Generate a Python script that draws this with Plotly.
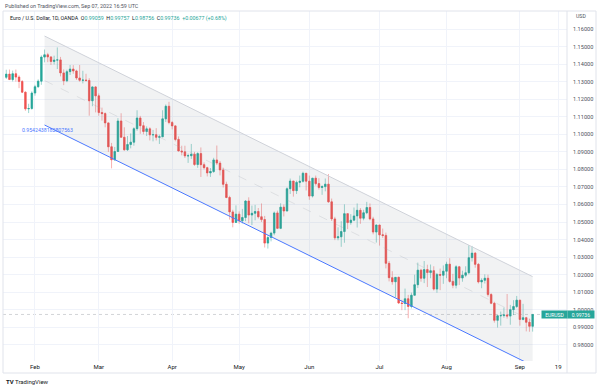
import pandas as pd
import plotly.graph_objects as go

# ---------------- data ----------------
dates = pd.bdate_range("2022-01-19", "2022-09-07")

opens = [1.1325, 1.1343, 1.1312, 1.1345, 1.1326, 1.1301, 1.1240, 1.1145, 1.1147,
         1.1235, 1.1271, 1.1303, 1.1440, 1.1453, 1.1441, 1.1415, 1.1423, 1.1424, 1.1350,
         1.1305, 1.1357, 1.1372, 1.1361, 1.1321, 1.1308, 1.1309, 1.1307, 1.1191, 1.1270,
         1.1219, 1.1124, 1.1118, 1.1065, 1.0929, 1.0855, 1.0902, 1.1076, 1.0983, 1.0912,
         1.0942, 1.0955, 1.1032, 1.1093, 1.1049, 1.1016, 1.1031, 1.0997, 1.0998, 1.0983,
         1.0986, 1.1088, 1.1160,
         1.1067, 1.1048, 1.0971, 1.0905, 1.0900, 1.0877, 1.0878, 1.0887, 1.0828, 1.0890,
         1.0827, 1.0810, 1.0780, 1.0788, 1.0854, 1.0836, 1.0797, 1.0715, 1.0640, 1.0558,
         1.0498,
         1.0545, 1.0507, 1.0526, 1.0620, 1.0540, 1.0550, 1.0560, 1.0530, 1.0514, 1.0380,
         1.0412, 1.0437, 1.0552, 1.0464, 1.0585, 1.0563, 1.0690, 1.0734, 1.0679, 1.0726,
         1.0732, 1.0778,
         1.0733, 1.0648, 1.0750, 1.0719, 1.0697, 1.0702, 1.0716, 1.0615, 1.0518, 1.0410,
         1.0416, 1.0446, 1.0548, 1.0497, 1.0511, 1.0535, 1.0567, 1.0522, 1.0553, 1.0583,
         1.0518, 1.0443,
         1.0483, 1.0427, 1.0424, 1.0265, 1.0183, 1.0160, 1.0185, 1.0039, 1.0036, 1.0063,
         1.0019, 1.0083, 1.0143, 1.0226, 1.0180, 1.0229, 1.0212, 1.0223, 1.0118, 1.0201,
         1.0197,
         1.0220, 1.0260, 1.0162, 1.0140, 1.0245, 1.0181, 1.0197, 1.0211, 1.0297, 1.0323,
         1.0259, 1.0159, 1.0168, 1.0180, 1.0087, 1.0037, 0.9940, 0.9966, 0.9967, 0.9971,
         0.9964, 1.0001, 1.0019,
         1.0055, 0.9945, 0.9955, 0.9929, 0.99059]

highs = [1.1368, 1.1369, 1.1363, 1.1369, 1.1336, 1.1309, 1.1245, 1.1174, 1.1245,
         1.1282, 1.1313, 1.1450, 1.1483, 1.1464, 1.1446, 1.1448, 1.1495, 1.1441, 1.1370,
         1.1368, 1.1395, 1.1394, 1.1368, 1.1395, 1.1362, 1.1345, 1.1320, 1.1274, 1.1275,
         1.1233, 1.1152, 1.1125, 1.1068, 1.0951, 1.0928, 1.1092, 1.1120, 1.1040, 1.0990,
         1.1005, 1.1040, 1.1137, 1.1105, 1.1070, 1.1045, 1.1040, 1.1025, 1.1035, 1.0998,
         1.1137, 1.1170, 1.1185,
         1.1076, 1.1053, 1.0988, 1.0935, 1.0935, 1.0890, 1.0945, 1.0900, 1.0898, 1.0925,
         1.0840, 1.0815, 1.0808, 1.0866, 1.0936, 1.0848, 1.0810, 1.0730, 1.0650, 1.0570,
         1.0595,
         1.0561, 1.0575, 1.0625, 1.0641, 1.0594, 1.0598, 1.0580, 1.0606, 1.0535, 1.0425,
         1.0445, 1.0560, 1.0565, 1.0607, 1.0600, 1.0698, 1.0748, 1.0735, 1.0736, 1.0765,
         1.0787, 1.0780,
         1.0765, 1.0752, 1.0765, 1.0750, 1.0710, 1.0748, 1.0774, 1.0634, 1.0530, 1.0470,
         1.0505, 1.0601, 1.0550, 1.0545, 1.0583, 1.0606, 1.0580, 1.0570, 1.0615, 1.0606,
         1.0530, 1.0487,
         1.0485, 1.0463, 1.0440, 1.0278, 1.0220, 1.0186, 1.0190, 1.0057, 1.0121, 1.0085,
         1.0098, 1.0200, 1.0269, 1.0234, 1.0278, 1.0257, 1.0258, 1.0248, 1.0210, 1.0235,
         1.0253,
         1.0274, 1.0294, 1.0205, 1.0254, 1.0250, 1.0223, 1.0248, 1.0368, 1.0364, 1.0329,
         1.0267, 1.0180, 1.0202, 1.0200, 1.0095, 1.0046, 0.9970, 0.9990, 1.0013, 1.0090,
         1.0028, 1.0055, 1.0079,
         1.0057, 1.0034, 0.9960, 0.9950, 0.99757]

lows = [1.1315, 1.1313, 1.1301, 1.1300, 1.1263, 1.1235, 1.1134, 1.1121, 1.1140,
        1.1220, 1.1265, 1.1282, 1.1410, 1.1411, 1.1395, 1.1398, 1.1372, 1.1330, 1.1280,
        1.1297, 1.1338, 1.1345, 1.1310, 1.1300, 1.1290, 1.1300, 1.1106, 1.1160, 1.1125,
        1.1106, 1.1078, 1.1040, 1.0900, 1.0806, 1.0848, 1.0900, 1.0980, 1.0906, 1.0905,
        1.0920, 1.0935, 1.1020, 1.1003, 1.1000, 1.0990, 1.0965, 1.0960, 1.0965, 1.0945,
        1.0983, 1.1070, 1.1057,
        1.1028, 1.0960, 1.0902, 1.0880, 1.0865, 1.0837, 1.0860, 1.0820, 1.0809, 1.0757,
        1.0800, 1.0760, 1.0757, 1.0780, 1.0825, 1.0766, 1.0697, 1.0636, 1.0514, 1.0470,
        1.0495,
        1.0490, 1.0492, 1.0505, 1.0493, 1.0483, 1.0510, 1.0520, 1.0500, 1.0355, 1.0349,
        1.0390, 1.0425, 1.0460, 1.0460, 1.0532, 1.0560, 1.0660, 1.0645, 1.0660, 1.0698,
        1.0725, 1.0680,
        1.0627, 1.0640, 1.0708, 1.0685, 1.0655, 1.0675, 1.0610, 1.0506, 1.0397, 1.0396,
        1.0359, 1.0382, 1.0460, 1.0485, 1.0505, 1.0469, 1.0490, 1.0510, 1.0545, 1.0510,
        1.0430, 1.0383,
        1.0366, 1.0410, 1.0236, 1.0162, 1.0143, 1.0071, 1.0033, 0.9998, 0.9998, 0.9952,
        1.0008, 1.0080, 1.0124, 1.0160, 1.0152, 1.0130, 1.0180, 1.0110, 1.0097, 1.0112,
        1.0148,
        1.0180, 1.0155, 1.0123, 1.0122, 1.0141, 1.0160, 1.0186, 1.0202, 1.0275, 1.0240,
        1.0150, 1.0123, 1.0150, 1.0075, 1.0032, 0.9927, 0.9899, 0.9910, 0.9955, 0.9950,
        0.9915, 0.9970, 1.0010,
        0.9910, 0.9940, 0.9877, 0.9875, 0.98756]

closes = [1.1343, 1.1312, 1.1345, 1.1326, 1.1301, 1.1240, 1.1145, 1.1147, 1.1235,
          1.1271, 1.1303, 1.1440, 1.1453, 1.1441, 1.1415, 1.1423, 1.1424, 1.1350, 1.1305,
          1.1357, 1.1372, 1.1361, 1.1321, 1.1308, 1.1309, 1.1307, 1.1191, 1.1270, 1.1219,
          1.1124, 1.1118, 1.1065, 1.0929, 1.0855, 1.0902, 1.1076, 1.0983, 1.0912, 1.0942,
          1.0955, 1.1032, 1.1093, 1.1049, 1.1016, 1.1031, 1.0997, 1.0998, 1.0983, 1.0986,
          1.1088, 1.1160, 1.1067,
          1.1048, 1.0971, 1.0905, 1.0900, 1.0877, 1.0878, 1.0887, 1.0828, 1.0890, 1.0827,
          1.0810, 1.0780, 1.0788, 1.0854, 1.0836, 1.0797, 1.0715, 1.0640, 1.0558, 1.0498,
          1.0545,
          1.0507, 1.0526, 1.0620, 1.0540, 1.0550, 1.0560, 1.0530, 1.0514, 1.0380, 1.0412,
          1.0437, 1.0552, 1.0464, 1.0585, 1.0563, 1.0690, 1.0734, 1.0679, 1.0726, 1.0732,
          1.0778, 1.0733,
          1.0648, 1.0750, 1.0719, 1.0697, 1.0702, 1.0716, 1.0615, 1.0518, 1.0410, 1.0416,
          1.0446, 1.0548, 1.0497, 1.0511, 1.0535, 1.0567, 1.0522, 1.0553, 1.0583, 1.0518,
          1.0443, 1.0483,
          1.0427, 1.0424, 1.0265, 1.0183, 1.0160, 1.0185, 1.0039, 1.0036, 1.0063, 1.0019,
          1.0083, 1.0143, 1.0226, 1.0180, 1.0229, 1.0212, 1.0223, 1.0118, 1.0201, 1.0197,
          1.0220,
          1.0260, 1.0162, 1.0140, 1.0245, 1.0181, 1.0197, 1.0211, 1.0297, 1.0323, 1.0259,
          1.0159, 1.0168, 1.0180, 1.0087, 1.0037, 0.9940, 0.9966, 0.9967, 0.9971, 0.9964,
          1.0001, 1.0019, 1.0055,
          0.9945, 0.9955, 0.9929, 0.9906, 0.99736]

assert len(dates) == len(opens) == len(highs) == len(lows) == len(closes)

# parallel channel drawing (anchor dates, upper line prices, channel height)
channel_dates = ["2022-02-04", "2022-09-07"]
channel_upper = [1.1560, 1.0189]
channel_height = 0.0507
channel_label = "0.9542438182807563"

y_ticks = [0.98, 0.99, 1.00, 1.01, 1.02, 1.03, 1.04, 1.05, 1.06, 1.07, 1.08, 1.09,
           1.10, 1.11, 1.12, 1.13, 1.14, 1.15, 1.16]
x_tick_dates = ["2022-02-01", "2022-03-01", "2022-04-01", "2022-05-02", "2022-06-01",
                "2022-07-01", "2022-08-01", "2022-09-01", "2022-09-19"]
x_tick_labels = ["Feb", "Mar", "Apr", "May", "Jun", "Jul", "Aug", "Sep", "19"]

last_close = closes[-1]

# ---------------- styling helpers ----------------
W, H = 600, 389
PL, PR, PT, PB = 3, 567, 11, 361
UP, DN = "#26a69a", "#ef5350"
FONT = "Roboto"


def px(x):
    return (x - PL) / (PR - PL)


def py(y):
    return (PB - y) / (PB - PT)


fig = go.Figure()

# channel fill
channel_lower = [v - channel_height for v in channel_upper]
fig.add_trace(go.Scatter(
    x=[channel_dates[0], channel_dates[1], channel_dates[1], channel_dates[0], channel_dates[0]],
    y=[channel_upper[0], channel_upper[1], channel_lower[1], channel_lower[0], channel_upper[0]],
    fill="toself", fillcolor="rgba(120,123,134,0.10)", line=dict(width=0),
    mode="lines", hoverinfo="skip", showlegend=False))
# middle dashed line
fig.add_trace(go.Scatter(
    x=channel_dates, y=[(u + l) / 2 for u, l in zip(channel_upper, channel_lower)],
    mode="lines", line=dict(color="rgba(150,153,163,0.28)", width=0.8, dash="dash"),
    hoverinfo="skip", showlegend=False))
# upper line
fig.add_trace(go.Scatter(
    x=channel_dates, y=channel_upper, mode="lines",
    line=dict(color="#cfd2d9", width=1), hoverinfo="skip", showlegend=False))
# lower line
fig.add_trace(go.Scatter(
    x=channel_dates, y=channel_lower, mode="lines",
    line=dict(color="#4a78ff", width=1), hoverinfo="skip", showlegend=False))

# candles: wicks (lighter) then solid bodies
fig.add_trace(go.Candlestick(
    x=dates, open=opens, high=highs, low=lows, close=closes,
    increasing=dict(line=dict(color="rgba(38,166,154,0.5)", width=0.9),
                    fillcolor="rgba(38,166,154,0.5)"),
    decreasing=dict(line=dict(color="rgba(239,83,80,0.5)", width=0.9),
                    fillcolor="rgba(239,83,80,0.5)"),
    whiskerwidth=0, showlegend=False, hoverinfo="skip"))
body_hi = [max(o, c) for o, c in zip(opens, closes)]
body_lo = [min(o, c) for o, c in zip(opens, closes)]
fig.add_trace(go.Candlestick(
    x=dates, open=opens, high=body_hi, low=body_lo, close=closes,
    increasing=dict(line=dict(color=UP, width=0.3), fillcolor=UP),
    decreasing=dict(line=dict(color=DN, width=0.3), fillcolor=DN),
    whiskerwidth=0, showlegend=False, hoverinfo="skip"))

shapes = [
    # last price line
    dict(type="line", xref="paper", x0=0, x1=1, yref="y", y0=last_close, y1=last_close,
         line=dict(color="rgba(150,153,163,0.55)", width=0.8, dash="dot"), layer="below"),
    # frame
    dict(type="rect", xref="paper", yref="paper", x0=px(3), x1=px(596), y0=py(373), y1=py(11),
         line=dict(color="#e0e3eb", width=1)),
    # axis separator
    dict(type="line", xref="paper", yref="paper", x0=1, x1=1, y0=py(373), y1=py(11),
         line=dict(color="#e0e3eb", width=1)),
]

annotations = [
    dict(text="Published on TradingView.com, Sep 07, 2022 16:59 UTC", xref="paper", yref="paper",
         x=px(3), y=py(6), xanchor="left", yanchor="middle", showarrow=False,
         font=dict(size=5.4, color="#50535e", family=FONT)),
    dict(text=("Euro / U.S. Dollar, 1D, OANDA  O<span style='color:#26a69a'>0.99059</span>  "
               "H<span style='color:#26a69a'>0.99757</span>  L<span style='color:#26a69a'>0.98756</span>  "
               "C<span style='color:#26a69a'>0.99736</span>  <span style='color:#26a69a'>+0.00677 (+0.68%)</span>"),
         xref="paper", yref="paper", x=px(8), y=py(18), xanchor="left", yanchor="middle",
         showarrow=False, font=dict(size=5.3, color="#131722", family=FONT)),
    dict(text="USD", xref="paper", yref="paper", x=px(574), y=py(16), xanchor="left",
         yanchor="middle", showarrow=False, font=dict(size=5.2, color="#50535e", family=FONT)),
    dict(text=channel_label, xref="paper", yref="paper", x=px(20), y=py(130), xanchor="left",
         yanchor="middle", showarrow=False, font=dict(size=5.2, color="#4a78ff", family=FONT)),
    dict(text="EURUSD", xref="paper", yref="y", x=px(554.5), y=last_close, xanchor="center",
         yanchor="middle", showarrow=False, width=25, height=7, bgcolor=UP, borderpad=0,
         font=dict(size=5, color="white", family=FONT)),
    dict(text=f"{last_close:.5f}", xref="paper", yref="y", x=px(580.5), y=last_close,
         xanchor="center", yanchor="middle", showarrow=False, width=26, height=7, bgcolor=UP,
         borderpad=0, font=dict(size=5, color="white", family=FONT)),
    dict(text="<b>TV</b> TradingView", xref="paper", yref="paper", x=px(4), y=py(381),
         xanchor="left", yanchor="middle", showarrow=False,
         font=dict(size=6, color="#131722", family=FONT)),
]

fig.update_layout(
    width=W, height=H,
    margin=dict(l=PL, r=W - PR, t=PT, b=H - PB, autoexpand=False),
    paper_bgcolor="white", plot_bgcolor="white",
    showlegend=False,
    shapes=shapes, annotations=annotations,
    font=dict(family=FONT, size=6, color="#131722"),
)
fig.update_xaxes(
    type="date",
    rangebreaks=[dict(bounds=["sat", "mon"])],
    range=["2022-01-17 23:20", "2022-09-21 18:30"],
    rangeslider=dict(visible=False),
    tickvals=x_tick_dates, ticktext=x_tick_labels,
    showgrid=True, gridcolor="#f0f3fa", gridwidth=1, automargin=False,
    ticks="", ticklabelstandoff=1, zeroline=False, showline=False,
    tickfont=dict(size=6, color="#131722", family=FONT),
)
fig.update_yaxes(
    side="right",
    range=[0.97083, 1.17026],
    tickvals=y_ticks, tickformat=".5f", automargin=False,
    showgrid=True, gridcolor="#f0f3fa", gridwidth=1,
    ticks="", ticklabelstandoff=5, zeroline=False, showline=False,
    tickfont=dict(size=5.6, color="#50535e", family=FONT),
)

fig.write_html(
    "out.html",
    config={"displayModeBar": False},
    post_script="document.body.style.margin='0';document.body.style.padding='0';"
                "document.body.style.overflow='hidden';",
)
